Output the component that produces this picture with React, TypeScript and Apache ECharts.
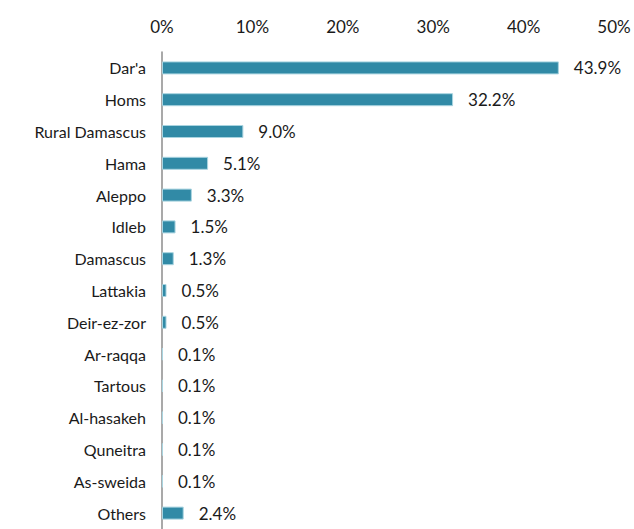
import React, { useEffect, useRef } from "react";
import * as echarts from "echarts";

const categories = [
  "Dar'a", "Homs", "Rural Damascus", "Hama", "Aleppo", "Idleb", "Damascus",
  "Lattakia", "Deir-ez-zor", "Ar-raqqa", "Tartous", "Al-hasakeh", "Quneitra",
  "As-sweida", "Others",
];
const values = [43.9, 32.2, 9.0, 5.1, 3.3, 1.5, 1.3, 0.5, 0.5, 0.1, 0.1, 0.1, 0.1, 0.1, 2.4];
const tickMin = 0;
const tickMax = 50;
const tickStep = 10;

export default function App() {
  const ref = useRef<HTMLDivElement>(null);
  useEffect(() => {
    if (!ref.current) return;
    const chart = echarts.init(ref.current, null, { renderer: "svg" });
    chart.setOption({
      animation: false,
      backgroundColor: "#ffffff",
      textStyle: { fontFamily: "Lato" },
      grid: { left: 162, right: 20, top: 52, height: 481, containLabel: false },
      xAxis: {
        type: "value",
        position: "top",
        min: tickMin,
        max: tickMax,
        interval: tickStep,
        axisLine: { show: false },
        axisTick: { show: false },
        splitLine: { show: false },
        axisLabel: {
          formatter: "{value}%",
          fontSize: 17,
          color: "#1a1a1a",
          margin: 17,
          fontFamily: "Lato",
        },
      },
      yAxis: {
        type: "category",
        data: categories,
        inverse: true,
        axisLine: { show: true, lineStyle: { color: "#8c8c8c", width: 1.5 } },
        axisTick: { show: false },
        axisLabel: { fontSize: 16, color: "#1a1a1a", margin: 16, fontFamily: "Lato" },
      },
      series: [
        {
          type: "bar",
          data: values,
          barWidth: 13,
          itemStyle: { color: "#318aa6", borderColor: "#a9d4e0", borderWidth: 1 },
          label: {
            show: true,
            position: "right",
            distance: 15,
            fontSize: 17,
            color: "#1a1a1a",
            fontFamily: "Lato",
            formatter: (p: any) => Number(p.value).toFixed(1) + "%",
          },
        },
      ],
    });
    return () => chart.dispose();
  }, []);
  return <div ref={ref} style={{ width: 634, height: 529, position: "absolute", left: 0, top: 0 }} />;
}
